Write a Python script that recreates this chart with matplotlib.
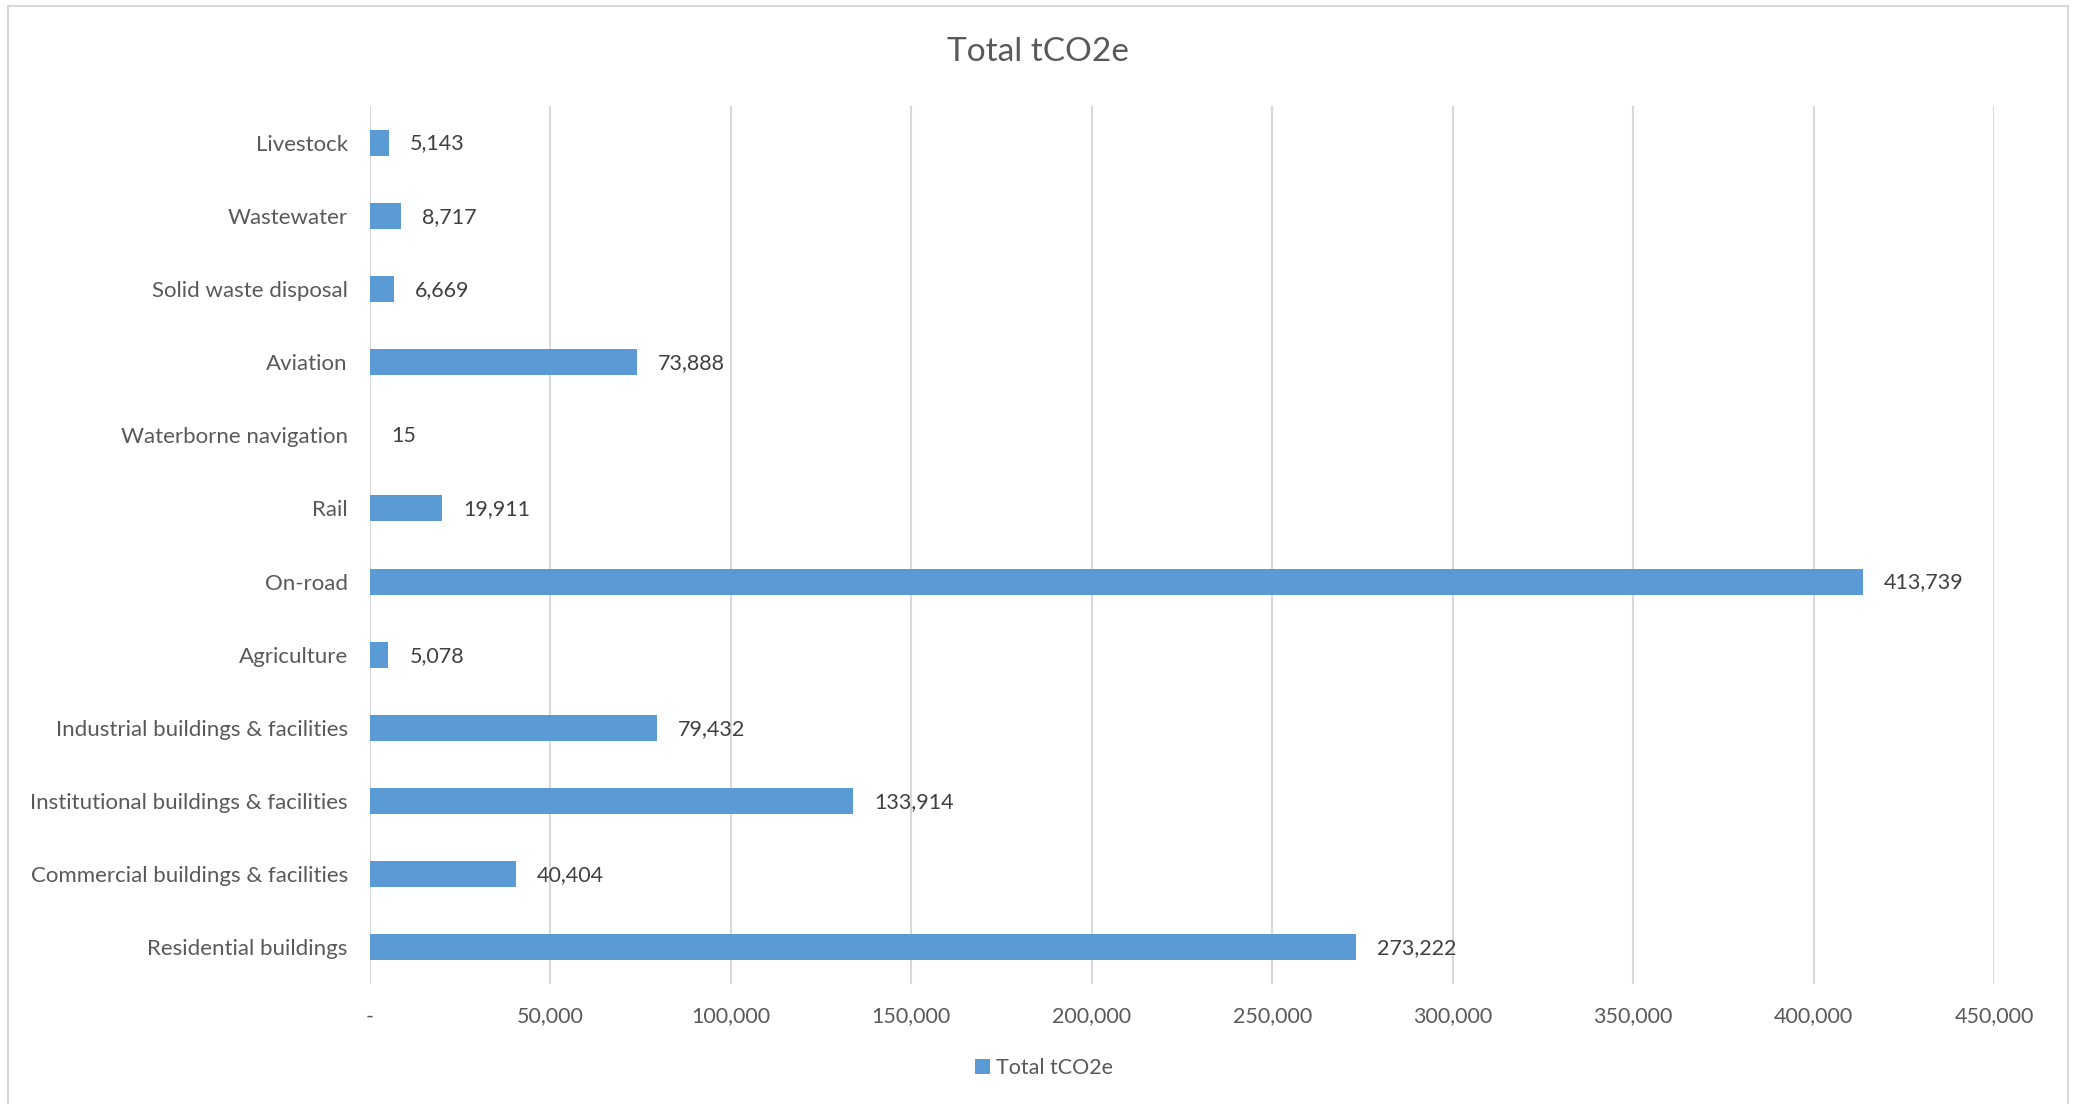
import matplotlib
matplotlib.use("Agg")
import matplotlib.pyplot as plt
from matplotlib.patches import Rectangle
from matplotlib.ticker import FuncFormatter

# data, bottom to top as drawn
categories = [
    "Residential buildings",
    "Commercial buildings & facilities",
    "Institutional buildings & facilities",
    "Industrial buildings & facilities",
    "Agriculture",
    "On-road",
    "Rail",
    "Waterborne navigation",
    "Aviation",
    "Solid waste disposal",
    "Wastewater",
    "Livestock",
]
values = [273222, 40404, 133914, 79432, 5078, 413739, 19911, 15, 73888, 6669, 8717, 5143]
xticks = [0, 50000, 100000, 150000, 200000, 250000, 300000, 350000, 400000, 450000]

BAR = "#5B9BD5"
TXT = "#595959"
GRID = "#D9D9D9"

plt.rcParams["font.family"] = ["Lato", "DejaVu Sans"]

fig = plt.figure(figsize=(20.75, 11.04), dpi=100)
ax = fig.add_axes([370 / 2075, 1 - 984 / 1104, (1994 - 370) / 2075, (984 - 106) / 1104])

# outer chart frame
fig.patches.append(Rectangle((8 / 2075, -0.01), (2068 - 8) / 2075, 1 - 6 / 1104 + 0.01,
                             transform=fig.transFigure, fill=False, edgecolor=GRID, linewidth=1.5))

y = range(len(categories))
bars = ax.barh(y, values, height=0.355, color=BAR, label="Total tCO2e", zorder=3)

for yi, v in zip(y, values):
    ax.annotate(f"{v:,}", (v, yi), xytext=(21, -1), textcoords="offset pixels",
                ha="left", va="center", fontsize=15.5, color="#404040")

ax.set_xlim(0, 450000)
ax.set_ylim(-0.5, len(categories) - 0.5)
ax.set_xticks(xticks)
ax.xaxis.set_major_formatter(FuncFormatter(lambda v, p: "-" if v == 0 else f"{int(v):,}"))
ax.set_yticks(list(y))
ax.set_yticklabels(categories)
ax.tick_params(axis="x", length=0, pad=16, labelsize=15.5, labelcolor=TXT)
ax.tick_params(axis="y", length=0, pad=16, labelsize=16, labelcolor=TXT)
ax.grid(axis="x", color=GRID, linewidth=1.5, zorder=0)
for s in ax.spines.values():
    s.set_visible(False)

fig.text(0.5, 1 - 52 / 1104, "Total tCO2e", ha="center", va="center", fontsize=24, color=TXT)
fig.legend(handles=[bars], labels=["Total tCO2e"], loc="center", bbox_to_anchor=(1044 / 2075, 1 - 1068 / 1104),
           frameon=False, fontsize=15.5, handlelength=0.7, handleheight=0.7, handletextpad=0.3,
           labelcolor=TXT)

fig.savefig("out.png", dpi=100)
